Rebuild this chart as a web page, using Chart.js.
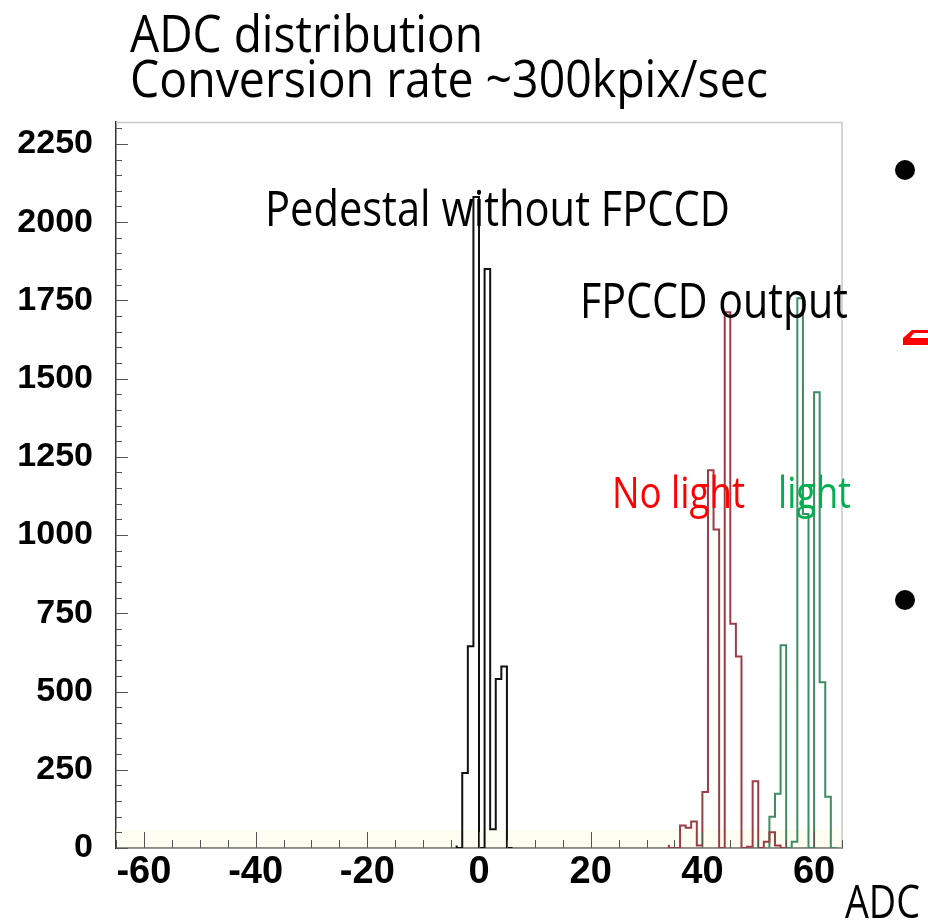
<!DOCTYPE html>
<html>
<head>
<meta charset="utf-8">
<script src="https://cdn.jsdelivr.net/npm/chart.js@4.4.1/dist/chart.umd.min.js"></script>
<style>
  html, body { margin: 0; padding: 0; background: #fff; }
  #wrap { position: relative; width: 928px; height: 920px; overflow: hidden; }
  #chart { position: absolute; left: 0; top: 0; }
  .lbl {
    position: absolute;
    white-space: nowrap;
    line-height: 1;
    font-family: "Open Sans", "Noto Sans", sans-serif;
    transform-origin: 0 0;
  }
  .dot { position: absolute; width: 20px; height: 20px; border-radius: 50%; background: #000; }
</style>
</head>
<body>
<div id="wrap">
  <canvas id="chart" width="928" height="920"></canvas>

  <div class="lbl" data-w="353" style="left:130px; top:6px; font-size:52px;">ADC distribution</div>
  <div class="lbl" data-w="638" style="left:130px; top:51px; font-size:52px;">Conversion rate ~300kpix/sec</div>

  <div class="lbl" data-w="465" style="left:265px; top:183px; font-size:49px;">Pedestal without FPCCD</div>
  <div class="lbl" data-w="268" style="left:580px; top:275px; font-size:49px;">FPCCD output</div>
  <div class="lbl" data-w="133" style="left:612px; top:469px; font-size:44px; color:#ff0000;">No light</div>
  <div class="lbl" data-w="73" style="left:778px; top:469px; font-size:44px; color:#00b050;">light</div>
  <div class="lbl" data-w="75" style="left:845px; top:877px; font-size:46px;">ADC</div>

  <div class="dot" style="left:895px; top:160px;"></div>
  <div class="dot" style="left:895px; top:590px;"></div>
  <svg style="position:absolute; left:870px; top:320px;" width="58" height="35">
    <polygon points="33,18 42,10 58,10 58,13 44,13 40,18 58,18 58,25 33,25" fill="#ff0000"/>
  </svg>
</div>

<script>
// histogram bins are 1 ADC wide, counts start at the given lower edge
const pedestalStart = -4;
const pedestalCounts = [8, 0, 240, 645, 2080, 0, 1850, 60, 540, 580];

const noLightStart = 34;
const noLightCounts = [10, 0, 0, 72, 65, 85, 8, 179, 1207, 1018, 0, 1712, 717, 612, 0, 4, 213, 0, 20, 50, 8];

const lightStart = 52;
const lightCounts = [25, 100, 173, 648, 0, 20, 1757, 1067, 0, 1456, 530, 164];

const xTicks = [-60, -40, -20, 0, 20, 40, 60];
const yTicks = [0, 250, 500, 750, 1000, 1250, 1500, 1750, 2000, 2250];

// outline points for a stepped histogram
function histPoints(start, counts) {
  const pts = [{ x: start, y: 0 }];
  counts.forEach((c, i) => pts.push({ x: start + i, y: c }));
  pts.push({ x: start + counts.length, y: 0 });
  return pts;
}

// ROOT style inward ticks and the faint frame
const frameTicks = {
  id: "frameTicks",
  beforeDatasetsDraw(chart) {
    const { ctx, chartArea: a, scales: { y } } = chart;
    ctx.save();
    ctx.fillStyle = "rgba(250,250,225,0.45)";
    const yb = y.getPixelForValue(60);
    ctx.fillRect(a.left, yb, a.right - a.left, a.bottom - yb);
    ctx.restore();
  },
  afterDraw(chart) {
    const { ctx, chartArea: a, scales: { x, y } } = chart;
    ctx.save();
    ctx.strokeStyle = "#c8c8c8";
    ctx.lineWidth = 1.5;
    ctx.beginPath();
    ctx.moveTo(a.left, a.top + 0.5);
    ctx.lineTo(a.right, a.top + 0.5);
    ctx.moveTo(a.right, a.top);
    ctx.lineTo(a.right, a.bottom);
    ctx.stroke();

    ctx.strokeStyle = "#555";
    ctx.lineWidth = 1;
    ctx.beginPath();
    for (let v = 0; v <= 2300; v += 50) {
      const py = Math.round(y.getPixelForValue(v)) + 0.5;
      const len = v % 250 === 0 ? 12 : 6;
      ctx.moveTo(a.left, py);
      ctx.lineTo(a.left + len, py);
    }
    for (let v = -65; v <= 65; v += 5) {
      const px = Math.round(x.getPixelForValue(v)) + 0.5;
      const len = v % 20 === 0 ? 16 : 8;
      ctx.moveTo(px, a.bottom);
      ctx.lineTo(px, a.bottom - len);
    }
    ctx.stroke();
    ctx.restore();
  }
};

const stepLine = (data, color) => ({
  data,
  showLine: true,
  stepped: "after",
  borderColor: color,
  borderWidth: 2,
  pointRadius: 0,
  fill: false
});

new Chart(document.getElementById("chart"), {
  type: "scatter",
  data: {
    datasets: [
      stepLine(histPoints(noLightStart, noLightCounts), "#9e3c46"),
      stepLine(histPoints(lightStart, lightCounts), "#3d8c62"),
      stepLine(histPoints(pedestalStart, pedestalCounts), "#111")
    ]
  },
  options: {
    responsive: false,
    animation: false,
    layout: { padding: { top: 122, right: 86, left: 0, bottom: 0 } },
    plugins: { legend: { display: false }, tooltip: { enabled: false } },
    scales: {
      x: {
        type: "linear",
        min: -65,
        max: 65,
        afterFit: (s) => { s.height = 72; },
        afterBuildTicks: (s) => { s.ticks = xTicks.map((v) => ({ value: v })); },
        grid: { display: false },
        border: { display: true, color: "#333", width: 1.5 },
        ticks: {
          padding: -6,
          color: "#000",
          font: { family: "Liberation Sans", weight: "bold", size: 38 },
          callback: (v) => String(v)
        }
      },
      y: {
        type: "linear",
        min: 0,
        max: 2320,
        afterFit: (s) => { s.width = 116; },
        afterBuildTicks: (s) => { s.ticks = yTicks.map((v) => ({ value: v })); },
        grid: { display: false },
        border: { display: true, color: "#333", width: 1.5 },
        ticks: {
          padding: 15,
          color: "#000",
          font: { family: "Liberation Sans", weight: "bold", size: 34 },
          callback: (v) => String(v)
        }
      }
    }
  },
  plugins: [frameTicks]
});

// squeeze overlay texts to the widths seen in the picture
document.querySelectorAll(".lbl").forEach((el) => {
  const w = el.getBoundingClientRect().width;
  const target = Number(el.dataset.w);
  if (w > 0) el.style.transform = `scaleX(${target / w})`;
});
</script>
</body>
</html>
